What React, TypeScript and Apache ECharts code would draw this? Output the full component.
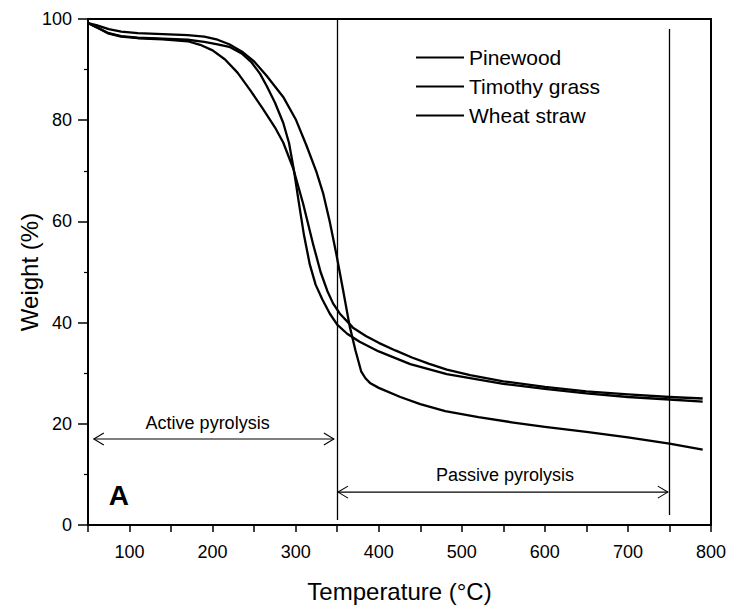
import React, { useEffect, useRef } from 'react';
import * as echarts from 'echarts';

// Temperature (°C) and weight (%) readings per sample
const pinewoodT = [50, 60, 75, 90, 110, 140, 170, 190, 206, 220, 235, 250, 265, 285, 300, 313, 325, 333, 341, 349, 357, 365, 372, 379, 384, 390, 400, 426, 450, 480, 520, 560, 600, 650, 700, 750, 790];
const pinewoodW = [99.2, 98.8, 98.0, 97.5, 97.2, 97.0, 96.8, 96.5, 95.9, 95.0, 93.6, 91.6, 88.8, 84.6, 80.2, 75.0, 69.8, 65.6, 60.0, 53.5, 46.5, 39.3, 34.5, 30.3, 29.0, 28.0, 27.1, 25.3, 23.9, 22.5, 21.3, 20.3, 19.4, 18.4, 17.3, 16.1, 14.9];

const timothyT = [50, 60, 75, 90, 110, 140, 170, 185, 200, 215, 230, 245, 260, 275, 285, 297, 309, 321, 330, 338, 345, 353, 369, 385, 400, 420, 440, 460, 482, 510, 550, 600, 650, 700, 750, 790];
const timothyW = [99.2, 98.4, 97.1, 96.5, 96.2, 96.0, 95.6, 94.9, 93.8, 92.0, 89.4, 86.0, 82.4, 78.6, 75.6, 70.5, 63.5, 55.5, 50.0, 46.3, 43.8, 41.8, 39.0, 37.3, 36.0, 34.5, 33.1, 31.9, 30.7, 29.6, 28.4, 27.3, 26.4, 25.8, 25.3, 25.0];

const wheatT = [50, 60, 75, 90, 110, 140, 170, 190, 206, 220, 235, 247, 257, 265, 275, 285, 292, 298, 304, 310, 317, 324, 332, 341, 350, 362, 377, 400, 438, 482, 550, 600, 650, 700, 750, 790];
const wheatW = [99.2, 98.4, 97.2, 96.6, 96.3, 96.1, 95.9, 95.5, 95.0, 94.5, 93.2, 91.4, 89.2, 86.8, 83.5, 79.5, 75.5, 70.0, 63.5, 57.3, 51.5, 47.5, 44.6, 41.8, 39.6, 37.8, 36.2, 34.3, 31.8, 29.8, 27.9, 26.9, 26.0, 25.3, 24.8, 24.4];

const seriesNames = ['Pinewood', 'Timothy grass', 'Wheat straw'];

// Annotation values (data coordinates)
const boundaryLines = [
  { t: 350, from: 100, to: 1 },
  { t: 750, from: 98, to: 2 },
];
const activeArrow = { t1: 57, t2: 346, w: 17 };
const passiveArrow = { t1: 351, t2: 748, w: 6.5 };
const activeLabel = { text: 'Active pyrolysis', t: 194, w: 20.2 };
const passiveLabel = { text: 'Passive pyrolysis', t: 552, w: 9.8 };
const panelLabel = { text: 'A', t: 87, w: 5.9 };

export default function App() {
  const ref = useRef<HTMLDivElement>(null);

  useEffect(() => {
    const chart = echarts.init(ref.current!, null, { renderer: 'svg' });
    const font = '"Liberation Sans", Arial, sans-serif';
    const mk = (name: string, T: number[], W: number[]) => ({
      name,
      type: 'line',
      data: T.map((t, i) => [t, W[i]]),
      symbol: 'none',
      smooth: false,
      lineStyle: { color: '#000', width: 2.3, join: 'round' },
      itemStyle: { color: '#000' },
    });

    const s0: any = mk(seriesNames[0], pinewoodT, pinewoodW);
    s0.markLine = {
      silent: true,
      symbol: 'none',
      label: { show: false },
      lineStyle: { color: '#000', width: 1.3, type: 'solid' },
      data: boundaryLines.map((b) => [{ coord: [b.t, b.from] }, { coord: [b.t, b.to] }]),
    };

    chart.setOption({
      animation: false,
      backgroundColor: '#fff',
      textStyle: { fontFamily: font, color: '#000' },
      grid: {
        left: 88,
        right: 20,
        top: 19,
        bottom: 87,
        show: true,
        borderColor: '#000',
        borderWidth: 2,
        backgroundColor: 'transparent',
      },
      legend: {
        orient: 'vertical',
        left: 411,
        top: 42,
        icon: 'rect',
        itemWidth: 48,
        itemHeight: 2,
        itemGap: 8,
        data: seriesNames,
        textStyle: { fontFamily: font, fontSize: 21, color: '#000' },
      },
      xAxis: {
        type: 'value',
        min: 50,
        max: 800,
        interval: 50,
        name: 'Temperature (°C)',
        nameLocation: 'middle',
        nameGap: 54,
        nameTextStyle: { fontFamily: font, fontSize: 24, color: '#000' },
        axisLine: { show: true, lineStyle: { color: '#000', width: 2 } },
        axisTick: { show: true, length: 7, lineStyle: { color: '#000', width: 1.5 } },
        axisLabel: {
          fontFamily: font,
          fontSize: 18,
          color: '#000',
          margin: 18,
          formatter: (v: number) => (v % 100 === 0 ? String(v) : ''),
        },
        splitLine: { show: false },
      },
      yAxis: {
        type: 'value',
        min: 0,
        max: 100,
        interval: 20,
        name: 'Weight (%)',
        nameLocation: 'middle',
        nameGap: 47,
        nameMoveOverlap: false,
        nameTextStyle: { fontFamily: font, fontSize: 24, color: '#000' },
        axisLine: { show: true, lineStyle: { color: '#000', width: 2 } },
        axisTick: { show: true, length: 10, lineStyle: { color: '#000', width: 1.5 } },
        minorTick: { show: true, splitNumber: 2, length: 4, lineStyle: { color: '#000', width: 1.2 } },
        axisLabel: { fontFamily: font, fontSize: 18, color: '#000', margin: 16 },
        splitLine: { show: false },
      },
      series: [s0, mk(seriesNames[1], timothyT, timothyW), mk(seriesNames[2], wheatT, wheatW)],
    });

    const px = (t: number, w: number) => chart.convertToPixel({ gridIndex: 0 }, [t, w]) as number[];
    const arrow = (a: { t1: number; t2: number; w: number }) => {
      const p1 = px(a.t1, a.w);
      const p2 = px(a.t2, a.w);
      const y = p1[1];
      const st = { stroke: '#000', lineWidth: 1.1, fill: null };
      return [
        { type: 'line', shape: { x1: p1[0], y1: y, x2: p2[0], y2: y }, style: st, silent: true },
        { type: 'polyline', shape: { points: [[p1[0] + 10, y - 6], [p1[0], y], [p1[0] + 10, y + 6]] }, style: st, silent: true },
        { type: 'polyline', shape: { points: [[p2[0] - 10, y - 6], [p2[0], y], [p2[0] - 10, y + 6]] }, style: st, silent: true },
      ];
    };
    const label = (l: { text: string; t: number; w: number }, size: number, bold = false) => {
      const p = px(l.t, l.w);
      return {
        type: 'text',
        x: p[0],
        y: p[1],
        silent: true,
        style: {
          text: l.text,
          fill: '#000',
          font: `${bold ? 'bold ' : ''}${size}px ${font}`,
          align: 'center',
          verticalAlign: 'middle',
        },
      };
    };

    chart.setOption({
      graphic: [
        ...arrow(activeArrow),
        ...arrow(passiveArrow),
        label(activeLabel, 18),
        label(passiveLabel, 18),
        label(panelLabel, 28, true),
      ],
    });

    return () => chart.dispose();
  }, []);

  return <div ref={ref} style={{ position: 'fixed', left: 0, top: 0, width: 731, height: 612 }} />;
}
